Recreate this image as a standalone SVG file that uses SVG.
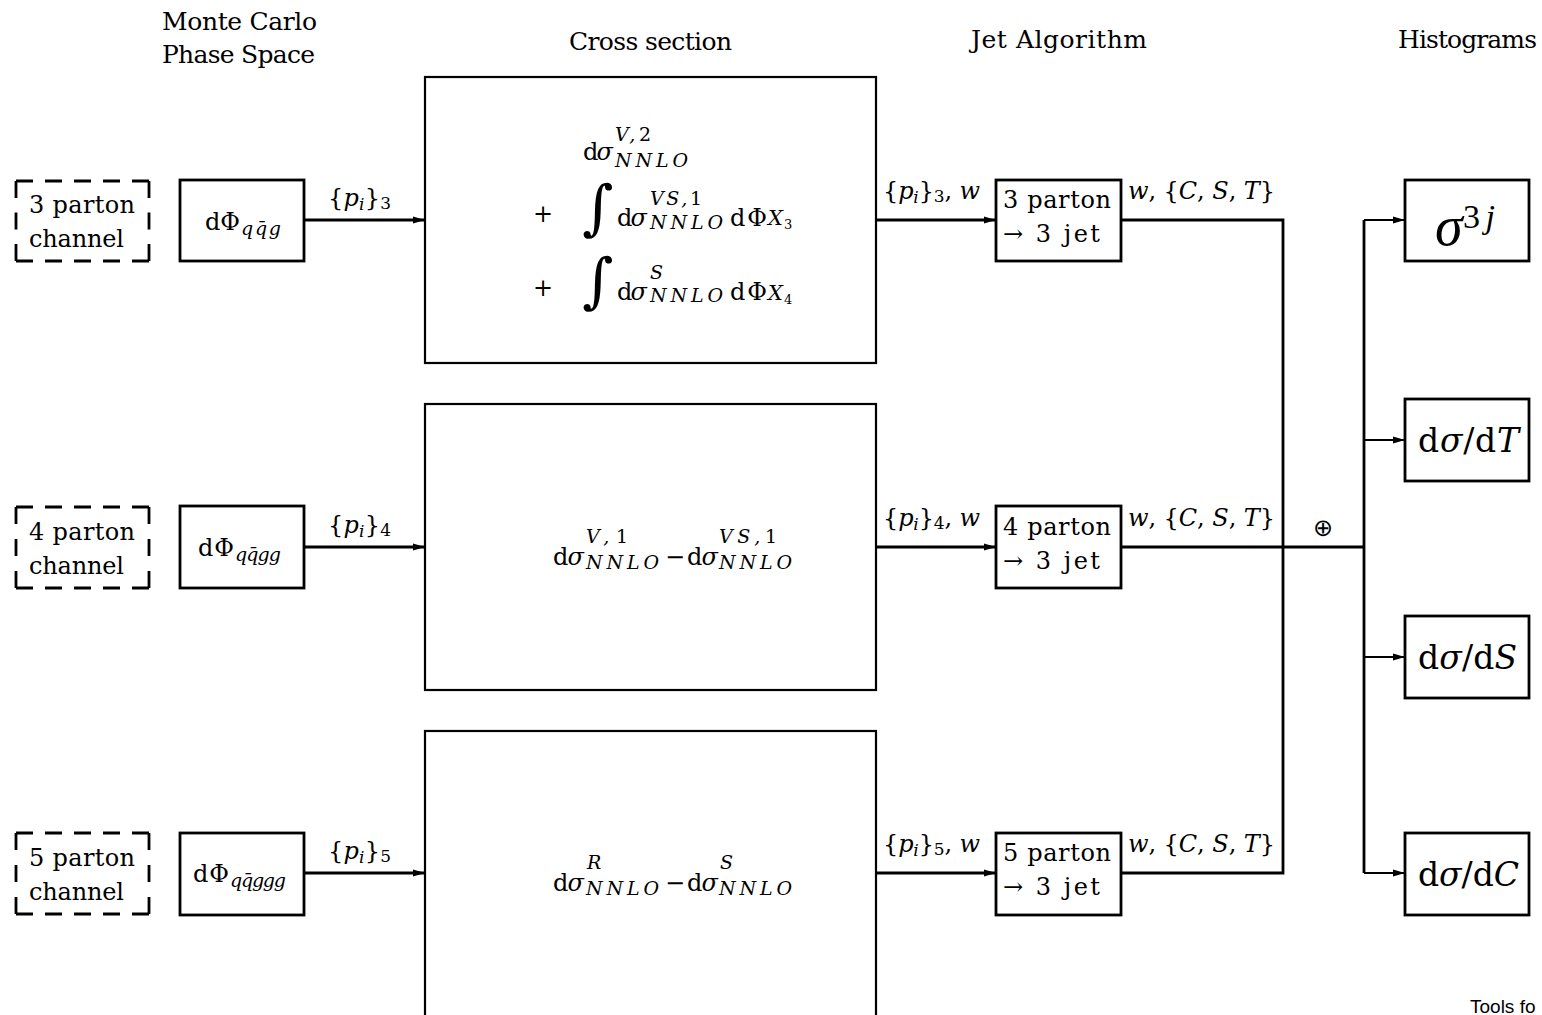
<svg xmlns="http://www.w3.org/2000/svg" width="1542" height="1015" viewBox="0 0 1542 1015">
  <style>
    text { font-family: "DejaVu Serif", "Liberation Serif", serif; fill: #000; }
    .hd { font-size: 25px; }
    .lb { font-size: 24px; }
    .m { font-size: 24px; }
    .i { font-style: italic; }
    .up { font-style: normal; }
    .ss { font-size: 19px; font-style: italic; }
    .int { font-size: 60px; }
    .box { fill: #fff; stroke: #000; stroke-width: 2.8; }
    .big { fill: #fff; stroke: #000; stroke-width: 2.2; }
    .dash { fill: none; stroke: #000; stroke-width: 2.8; }
    .wire { fill: none; stroke: #000; stroke-width: 2.8; }
    .thin { fill: none; stroke: #000; stroke-width: 2; }
    .hist { font-size: 33px; }
    .note { font-family: "Liberation Sans", Arial, sans-serif; font-size: 19px; }
  </style>
  <defs>
    <marker id="ah" markerUnits="userSpaceOnUse" markerWidth="13" markerHeight="8" refX="12" refY="4" orient="auto">
      <path d="M0,0.6 L12,4 L0,7.4 Z" fill="#000"/>
    </marker>
  </defs>

  <rect width="1542" height="1015" fill="#fff"/>

  <!-- column headers -->
  <g id="headers">
    <text class="hd" x="162" y="30" textLength="155">Monte Carlo</text>
    <text class="hd" x="162" y="63" textLength="153">Phase Space</text>
    <text class="hd" x="569" y="50" textLength="163">Cross section</text>
    <text class="hd" x="971" y="48" textLength="176">Jet Algorithm</text>
    <text class="hd" x="1398" y="48" textLength="139">Histograms</text>
  </g>

  <!-- connectors -->
  <g id="connectors">
    <path class="wire" d="M304,220 H425" marker-end="url(#ah)"/>
    <path class="wire" d="M304,547 H425" marker-end="url(#ah)"/>
    <path class="wire" d="M304,873 H425" marker-end="url(#ah)"/>
    <path class="wire" d="M876,220 H996" marker-end="url(#ah)"/>
    <path class="wire" d="M876,547 H996" marker-end="url(#ah)"/>
    <path class="wire" d="M876,873 H996" marker-end="url(#ah)"/>
    <path class="wire" d="M1121,220 H1283 V873 H1121"/>
    <path class="wire" d="M1121,547 H1364"/>
    <path class="wire" d="M1364,220 V873"/>
    <path class="thin" d="M1364,220 H1405" marker-end="url(#ah)"/>
    <path class="thin" d="M1364,440 H1405" marker-end="url(#ah)"/>
    <path class="thin" d="M1364,657 H1405" marker-end="url(#ah)"/>
    <path class="thin" d="M1364,873 H1405" marker-end="url(#ah)"/>

    <!-- momenta from phase space -->
    <text class="m" x="328" y="206" textLength="63">{<tspan class="i">p</tspan><tspan font-size="17" class="i" dy="4">i</tspan><tspan dy="-4">}</tspan><tspan font-size="17" dy="3">3</tspan></text>
    <text class="m" x="328" y="533" textLength="63">{<tspan class="i">p</tspan><tspan font-size="17" class="i" dy="4">i</tspan><tspan dy="-4">}</tspan><tspan font-size="17" dy="3">4</tspan></text>
    <text class="m" x="328" y="859" textLength="63">{<tspan class="i">p</tspan><tspan font-size="17" class="i" dy="4">i</tspan><tspan dy="-4">}</tspan><tspan font-size="17" dy="3">5</tspan></text>
    <!-- momenta and weights -->
    <text class="m" x="883" y="199" textLength="97">{<tspan class="i">p</tspan><tspan font-size="17" class="i" dy="4">i</tspan><tspan dy="-4">}</tspan><tspan font-size="17" dy="3">3</tspan><tspan dy="-3">, </tspan><tspan class="i">w</tspan></text>
    <text class="m" x="883" y="526" textLength="97">{<tspan class="i">p</tspan><tspan font-size="17" class="i" dy="4">i</tspan><tspan dy="-4">}</tspan><tspan font-size="17" dy="3">4</tspan><tspan dy="-3">, </tspan><tspan class="i">w</tspan></text>
    <text class="m" x="883" y="852" textLength="97">{<tspan class="i">p</tspan><tspan font-size="17" class="i" dy="4">i</tspan><tspan dy="-4">}</tspan><tspan font-size="17" dy="3">5</tspan><tspan dy="-3">, </tspan><tspan class="i">w</tspan></text>
    <!-- event shapes -->
    <text class="m" x="1128" y="199" textLength="147"><tspan class="i">w</tspan>, {<tspan class="i">C</tspan>, <tspan class="i">S</tspan>, <tspan class="i">T</tspan>}</text>
    <text class="m" x="1128" y="526" textLength="147"><tspan class="i">w</tspan>, {<tspan class="i">C</tspan>, <tspan class="i">S</tspan>, <tspan class="i">T</tspan>}</text>
    <text class="m" x="1128" y="852" textLength="147"><tspan class="i">w</tspan>, {<tspan class="i">C</tspan>, <tspan class="i">S</tspan>, <tspan class="i">T</tspan>}</text>
    <text x="1323" y="536" text-anchor="middle" style="font-family: 'DejaVu Sans', sans-serif; font-size: 24px;">⊕</text>
  </g>

  <!-- parton channels (dashed outlines, corners kept solid) -->
  <g id="ch3">
    <path class="dash" d="M16,181 H149 M16,261 H149" stroke-dasharray="17 12"/>
    <path class="dash" d="M16,181 V261 M149,181 V261" stroke-dasharray="17 14.5"/>
    <text class="lb" x="29" y="213" textLength="106">3 parton</text>
    <text class="lb" x="29" y="247" textLength="95">channel</text>
  </g>
  <g id="ch4">
    <path class="dash" d="M16,507 H149 M16,588 H149" stroke-dasharray="17 12"/>
    <path class="dash" d="M16,507 V588 M149,507 V588" stroke-dasharray="17 15"/>
    <text class="lb" x="29" y="540" textLength="106">4 parton</text>
    <text class="lb" x="29" y="574" textLength="95">channel</text>
  </g>
  <g id="ch5">
    <path class="dash" d="M16,833 H149 M16,914 H149" stroke-dasharray="17 12"/>
    <path class="dash" d="M16,833 V914 M149,833 V914" stroke-dasharray="17 15"/>
    <text class="lb" x="29" y="866" textLength="106">5 parton</text>
    <text class="lb" x="29" y="900" textLength="95">channel</text>
  </g>

  <!-- phase-space generators -->
  <g id="ps3">
    <rect class="box" x="180" y="180" width="124" height="81"/>
    <text class="m" x="205" y="230" textLength="35">dΦ</text>
    <text class="ss" x="241" y="235" textLength="40">qq̄g</text>
  </g>
  <g id="ps4">
    <rect class="box" x="180" y="506" width="124" height="82"/>
    <text class="m" x="198" y="556" textLength="36">dΦ</text>
    <text class="ss" x="235" y="561" textLength="46">qq̄gg</text>
  </g>
  <g id="ps5">
    <rect class="box" x="180" y="833" width="124" height="82"/>
    <text class="m" x="193" y="882" textLength="36">dΦ</text>
    <text class="ss" x="230" y="887" textLength="56">qq̄ggg</text>
  </g>

  <!-- cross-section blocks -->
  <g id="xs3">
    <rect class="big" x="425" y="77" width="451" height="286"/>
    <text class="m" x="583" y="160" textLength="30">d<tspan class="i">σ</tspan></text>
    <text class="ss" x="615" y="141" textLength="36">V,<tspan class="up">2</tspan></text>
    <text class="ss" x="615" y="167" textLength="73">NNLO</text>

    <text class="m" x="533" y="222">+</text>
    <text class="int" x="582" y="228">∫</text>
    <text class="m" x="617" y="226" textLength="30">d<tspan class="i">σ</tspan></text>
    <text class="ss" x="650" y="205" textLength="52">VS,<tspan class="up">1</tspan></text>
    <text class="ss" x="650" y="229" textLength="73">NNLO</text>
    <text class="m" x="730" y="226" textLength="37">dΦ</text>
    <text x="768" y="225" style="font-size: 21px; font-style: italic;">X</text>
    <text x="784" y="229" style="font-size: 13px;">3</text>

    <text class="m" x="533" y="296">+</text>
    <text class="int" x="582" y="301">∫</text>
    <text class="m" x="617" y="300" textLength="30">d<tspan class="i">σ</tspan></text>
    <text class="ss" x="650" y="279" textLength="15">S</text>
    <text class="ss" x="650" y="302" textLength="73">NNLO</text>
    <text class="m" x="730" y="300" textLength="37">dΦ</text>
    <text x="768" y="300" style="font-size: 21px; font-style: italic;">X</text>
    <text x="784" y="304" style="font-size: 13px;">4</text>
  </g>
  <g id="xs4">
    <rect class="big" x="425" y="404" width="451" height="286"/>
    <text class="m" x="553" y="565" textLength="31">d<tspan class="i">σ</tspan></text>
    <text class="ss" x="586" y="543" textLength="42">V,<tspan class="up">1</tspan></text>
    <text class="ss" x="586" y="569" textLength="73">NNLO</text>
    <text class="m" x="665" y="565" textLength="17">−</text>
    <text class="m" x="687" y="565" textLength="31">d<tspan class="i">σ</tspan></text>
    <text class="ss" x="719" y="543" textLength="58">VS,<tspan class="up">1</tspan></text>
    <text class="ss" x="719" y="569" textLength="73">NNLO</text>
  </g>
  <g id="xs5">
    <rect class="big" x="425" y="731" width="451" height="300"/>
    <text class="m" x="553" y="891" textLength="31">d<tspan class="i">σ</tspan></text>
    <text class="ss" x="587" y="869" textLength="15">R</text>
    <text class="ss" x="586" y="895" textLength="73">NNLO</text>
    <text class="m" x="665" y="891" textLength="17">−</text>
    <text class="m" x="687" y="891" textLength="31">d<tspan class="i">σ</tspan></text>
    <text class="ss" x="720" y="869" textLength="15">S</text>
    <text class="ss" x="719" y="895" textLength="73">NNLO</text>
  </g>

  <!-- jet algorithm blocks -->
  <g id="jet3">
    <rect class="box" x="996" y="180" width="125" height="81"/>
    <text class="lb" x="1003" y="208" textLength="108">3 parton</text>
    <text class="lb" x="1003" y="242" textLength="97">→ 3 jet</text>
  </g>
  <g id="jet4">
    <rect class="box" x="996" y="506" width="125" height="82"/>
    <text class="lb" x="1003" y="535" textLength="108">4 parton</text>
    <text class="lb" x="1003" y="569" textLength="97">→ 3 jet</text>
  </g>
  <g id="jet5">
    <rect class="box" x="996" y="833" width="125" height="82"/>
    <text class="lb" x="1003" y="861" textLength="108">5 parton</text>
    <text class="lb" x="1003" y="895" textLength="97">→ 3 jet</text>
  </g>

  <!-- histograms -->
  <g id="h-sigma">
    <rect class="box" x="1405" y="180" width="124" height="81"/>
    <text x="1435" y="245" style="font-family: 'Liberation Serif', serif; font-size: 56px; font-style: italic;">σ</text>
    <text x="1463" y="228" style="font-family: 'Liberation Serif', serif; font-size: 34px;" textLength="32">3<tspan class="i">j</tspan></text>
  </g>
  <g id="h-T">
    <rect class="box" x="1405" y="399" width="124" height="82"/>
    <text class="hist" x="1418" y="452" textLength="101">d<tspan class="i">σ</tspan>/d<tspan class="i">T</tspan></text>
  </g>
  <g id="h-S">
    <rect class="box" x="1405" y="616" width="124" height="82"/>
    <text class="hist" x="1418" y="669" textLength="99">d<tspan class="i">σ</tspan>/d<tspan class="i">S</tspan></text>
  </g>
  <g id="h-C">
    <rect class="box" x="1405" y="833" width="124" height="82"/>
    <text class="hist" x="1418" y="886" textLength="101">d<tspan class="i">σ</tspan>/d<tspan class="i">C</tspan></text>
  </g>

  <text class="note" x="1470" y="1013">Tools fo</text>
</svg>
